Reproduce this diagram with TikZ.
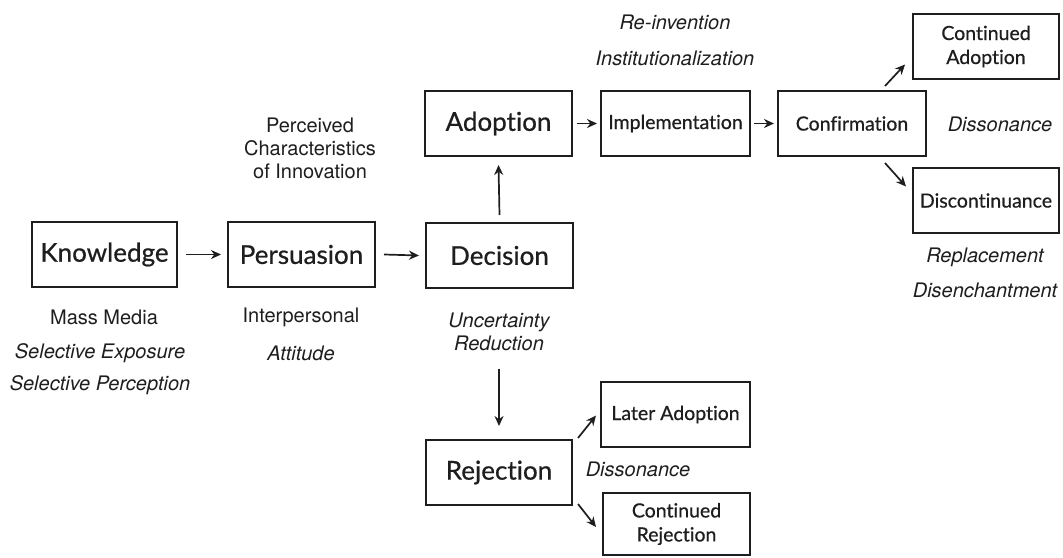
\documentclass[tikz,border=0pt]{standalone}
\usepackage{fontspec}
\setmainfont{TeX Gyre Heros}
\newfontfamily\boxfont[Ligatures=NoCommon,FakeBold=0.6]{Lato}
\usetikzlibrary{arrows.meta}
\definecolor{ink}{HTML}{1E1E1E}
\begin{document}
\begin{tikzpicture}[x=1pt,y=-1pt,
  bigbox/.style={draw=ink,line width=2pt,minimum width=147pt,minimum height=65pt,inner sep=0pt,font=\boxfont\fontsize{26}{28}\selectfont,text=ink},
  smallbox/.style={draw=ink,line width=2pt,minimum width=148pt,minimum height=65pt,inner sep=0pt,align=center,font=\boxfont\fontsize{19.5}{24}\selectfont,text=ink},
  ann/.style={font=\fontsize{20}{23}\selectfont,text=ink,align=center,inner sep=0pt},
  annit/.style={ann,font=\fontsize{20}{23}\selectfont\itshape},
  arr/.style={draw=ink,line width=1.7pt,-{Stealth[length=10pt,width=9pt]}}]
\useasboundingbox (0,0) rectangle (1063,557);
\fill[white] (0,0) rectangle (1063,557);
% boxes
\node[bigbox,minimum width=145pt] (k) at (104.5,254.5) {Knowledge};
\node[bigbox] (p) at (301.5,254.5) {Persuasion};
\node[bigbox] (d) at (499.5,255.5) {Decision};
\node[bigbox] (a) at (498.5,123.5) {Adoption};
\node[bigbox,minimum width=146pt] (r) at (499,472.5) {Rejection};
\node[smallbox,minimum width=149pt] (im) at (675.5,123.5) {Implementation};
\node[smallbox] (cf) at (852,123.5) {Confirmation};
\node[smallbox,minimum width=146pt] (ca) at (986,46.5) {Continued\\Adoption};
\node[smallbox,minimum width=146pt] (dc) at (986,200.5) {Discontinuance};
\node[smallbox,minimum width=149pt] (la) at (675.5,414.5) {Later Adoption};
\node[smallbox,minimum width=147pt,minimum height=62pt] (cr) at (676.5,524) {Continued\\Rejection};
% annotations
\node[ann] (mm) at (104,317) {Mass Media};
\node[annit] (se) at (100,353) {Selective Exposure};
\node[annit] (sp) at (100,385) {Selective Perception};
\node[ann] (ip) at (301,317) {Interpersonal};
\node[annit] (at) at (301,353) {Attitude};
\node[ann,align=center] (pc) at (310,148) {Perceived\\Characteristics\\of Innovation};
\node[annit,align=center] (ur) at (499,331.5) {Uncertainty\\Reduction};
\node[annit] (ri) at (675,22) {Re-invention};
\node[annit] (in) at (675,58) {Institutionalization};
\node[annit] (ds1) at (1000,124) {Dissonance};
\node[annit] (rp) at (985,257) {Replacement};
\node[annit] (de) at (985,290) {Disenchantment};
\node[annit] (ds2) at (638,469) {Dissonance};
% connectors
\draw[arr] ([shift={(8,0)}]k.east) -- ([shift={(-6,0)}]p.west);
\draw[arr] ([shift={(8,0)}]p.east) -- ([shift={(-6,0)}]d.west);
\draw[arr] ([shift={(0,-7)}]d.north) -- ([shift={(0,8)}]a.south);
\draw[arr] ([shift={(4,0)}]a.east) -- ([shift={(-3,0)}]im.west);
\draw[arr] ([shift={(3,0)}]im.east) -- ([shift={(-3,0)}]cf.west);
\draw[arr] ([shift={(33,-4)}]cf.north) -- ([shift={(-7,18)}]ca.west);
\draw[arr] ([shift={(33,6)}]cf.south) -- ([shift={(-6,-14)}]dc.west);
\draw[arr] ([shift={(0,18)}]ur.south) -- ([shift={(0,-13)}]r.north);
\draw[arr] ([shift={(5,-1)}]r.north east) -- ([shift={(-4,1)}]la.west);
\draw[arr] ([shift={(5,-2)}]r.south east) -- ([shift={(-6,3)}]cr.west);
\end{tikzpicture}
\end{document}
